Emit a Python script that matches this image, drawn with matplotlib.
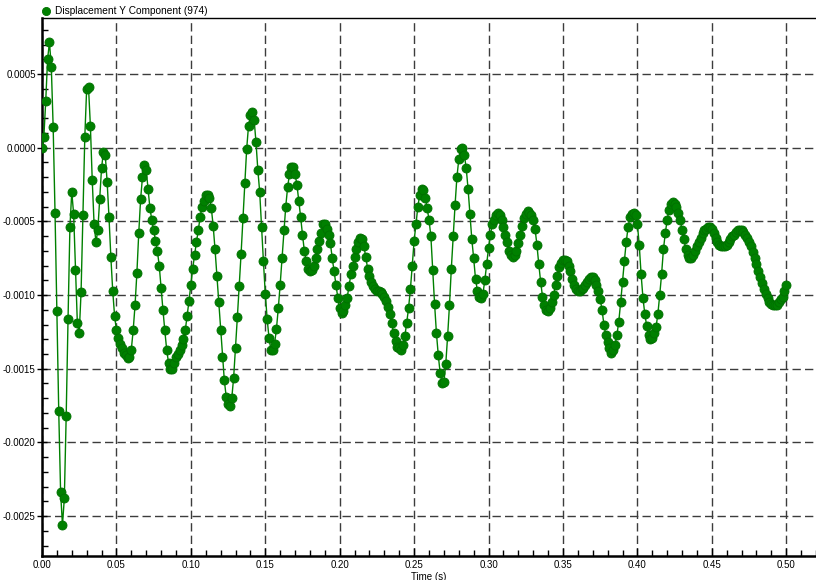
import numpy as np
import matplotlib.pyplot as plt
from matplotlib.ticker import MultipleLocator, FormatStrFormatter

plt.rcParams['font.family'] = ['Liberation Sans', 'DejaVu Sans']
plt.rcParams['axes.unicode_minus'] = False

# -- data: Y displacement of node 974 (units of 1e-4) --
dt = 0.00125  # time step, s

seg_000 = [0.0, 0.75, 3.15, 6.0, 7.15, 5.5, 1.4, -4.4, -11.1, -17.9, -23.4, -25.6, -23.8, -18.2,
           -11.6, -5.4, -3.0, -4.5, -8.3, -11.9, -12.6, -9.8, -4.6, 0.7, 4.0, 4.1, 1.5, -2.2,
           -5.2, -6.4, -5.6, -3.5, -1.4, -0.3, -0.5, -2.3, -4.7, -7.4, -9.7, -11.4]
seg_050 = [-12.4, -12.9, -13.3, -13.6, -13.9, -14.1, -14.3, -14.2, -13.7, -12.4, -10.7, -8.5,
           -5.8, -3.5, -2.0, -1.2, -1.5, -2.8, -4.1, -4.9, -5.6, -6.3, -7.0, -8.0, -9.5, -11.0,
           -12.4, -13.7, -14.6, -15.0, -15.0, -14.6, -14.2, -14.0, -13.7, -13.4, -13.0, -12.4,
           -11.4, -10.4]
seg_100 = [-9.3, -8.2, -7.3, -6.4, -5.6, -4.7, -4.0, -3.6, -3.2, -3.2, -3.4, -4.1, -5.3, -6.9,
           -8.7, -10.5, -12.4, -14.2, -15.8, -16.9, -17.4, -17.5, -17.0, -15.6, -13.6, -11.5,
           -9.4, -7.2, -4.8, -2.4, -0.1, 1.5, 2.2, 2.4, 1.9, 0.4, -1.5, -3.0, -5.4, -7.7]
seg_150 = [-9.9, -11.6, -12.9, -13.7, -13.7, -13.3, -12.3, -10.9, -9.3, -7.5, -5.6, -4.0, -2.7,
           -1.8, -1.3, -1.3, -1.8, -2.5, -3.6, -4.7, -5.9, -7.0, -7.7, -8.2, -8.4, -8.3, -8.0,
           -7.5, -6.9, -6.3, -5.8, -5.2, -5.2, -5.5, -5.9, -6.5, -7.5, -8.4, -9.3, -10.2]
seg_200 = [-10.9, -11.2, -11.1, -10.7, -10.2, -9.4, -8.6, -8.0, -7.4, -6.9, -6.4, -6.1, -6.2,
           -6.7, -7.4, -8.2, -8.7, -9.1, -9.4, -9.6, -9.7, -9.75, -9.8, -9.9, -10.1, -10.4,
           -10.8, -11.3, -11.9, -12.6, -13.1, -13.5, -13.6, -13.7, -13.4, -12.8, -11.9, -10.9,
           -9.6, -8.0]
seg_250 = [-6.3, -5.2, -4.0, -3.2, -2.8, -2.9, -3.4, -4.1, -4.9, -6.0, -8.3, -10.6, -12.6,
           -14.1, -15.3, -16.0, -15.9, -14.7, -12.8, -10.7, -8.2, -6.0, -3.9, -2.0, -0.8, -0.1,
           0.0, -0.5, -1.4, -2.8, -4.5, -6.2, -7.5, -8.9, -9.7, -10.1, -10.2, -9.9, -9.0, -7.9]
seg_300 = [-6.8, -5.9, -5.2, -4.9, -4.6, -4.4, -4.6, -4.9, -5.4, -5.9, -6.4, -7.0, -7.3, -7.4,
           -7.3, -7.0, -6.5, -5.9, -5.3, -4.8, -4.5, -4.3, -4.4, -4.6, -4.9, -5.5, -6.6, -7.9,
           -9.1, -10.1, -10.7, -11.0, -11.1, -10.9, -10.5, -10.0, -9.3, -8.7, -8.1, -7.8]
seg_350 = [-7.6, -7.6, -7.7, -8.0, -8.4, -8.9, -9.3, -9.6, -9.7, -9.7, -9.6, -9.5, -9.3, -9.1,
           -8.9, -8.8, -8.8, -9.0, -9.3, -9.7, -10.3, -11.0, -12.0, -12.7, -13.2, -13.6, -13.9,
           -13.7, -13.4, -12.7, -11.8, -10.5, -9.1, -7.7, -6.4, -5.4, -4.7, -4.5, -4.4, -4.6]
seg_400 = [-5.2, -6.6, -8.6, -10.2, -11.3, -12.1, -12.7, -13.0, -12.9, -12.6, -12.2, -11.3,
           -10.0, -8.6, -6.9, -5.8, -4.9, -4.2, -3.8, -3.7, -3.8, -4.0, -4.4, -4.9, -5.6, -6.2,
           -6.9, -7.3, -7.5, -7.5, -7.3, -7.0, -6.7, -6.4, -6.1, -5.8, -5.6, -5.5, -5.4, -5.4]
seg_450 = [-5.5, -5.8, -6.1, -6.4, -6.6, -6.7, -6.7, -6.7, -6.6, -6.4, -6.2, -6.0, -5.9, -5.7,
           -5.6, -5.6, -5.6, -5.7, -5.9, -6.1, -6.4, -6.7, -7.1, -7.5, -7.9, -8.4, -8.8, -9.2,
           -9.6, -9.9, -10.2, -10.5, -10.6, -10.7, -10.7, -10.7, -10.5, -10.3, -10.1, -9.7, -9.3]

disp = np.array(seg_000 + seg_050 + seg_100 + seg_150 + seg_200 +
                seg_250 + seg_300 + seg_350 + seg_400 + seg_450) * 1e-4
time = np.arange(len(disp)) * dt

# -- figure --
fig = plt.figure(figsize=(8.16, 5.8), dpi=100)
ax = fig.add_axes([42 / 816, 24 / 580, 774 / 816, 538 / 580])

ax.plot(time, disp, '-o', color='#008000', lw=1.0, ms=6.5,
        markeredgecolor='#007000', markeredgewidth=0.6,
        label='Displacement Y Component (974)', zorder=3)

ax.set_xlim(0, 0.52)
ax.set_ylim(-0.002771, 0.00088)

ax.xaxis.set_major_locator(MultipleLocator(0.05))
ax.xaxis.set_minor_locator(MultipleLocator(0.01))
ax.yaxis.set_major_locator(MultipleLocator(0.0005))
ax.yaxis.set_minor_locator(MultipleLocator(0.0001))
ax.xaxis.set_major_formatter(FormatStrFormatter('%.2f'))
ax.yaxis.set_major_formatter(FormatStrFormatter('%.4f'))

ax.tick_params(which='both', direction='in', labelsize=7, pad=3, colors='black')
ax.tick_params(which='major', length=6, width=1)
ax.tick_params(which='minor', length=4, width=1)
ax.tick_params(axis='y', which='major', direction='inout', length=7, pad=1)

ax.grid(True, which='major', color='#3c3c3c', linestyle=(0, (6, 3)), lw=1.0)

ax.spines['left'].set_linewidth(1.8)
ax.spines['bottom'].set_linewidth(1.8)
ax.spines['top'].set_linewidth(1.0)
ax.spines['right'].set_visible(False)

ax.set_xlabel('Time (s)', fontsize=7, labelpad=1)

ax.legend(loc='lower left', bbox_to_anchor=(0.003, 1.0), frameon=False, fontsize=7.3,
          handlelength=0, handletextpad=0.9, borderaxespad=0.05, borderpad=0.1,
          markerscale=0.9)

fig.savefig('out.png', dpi=100)
